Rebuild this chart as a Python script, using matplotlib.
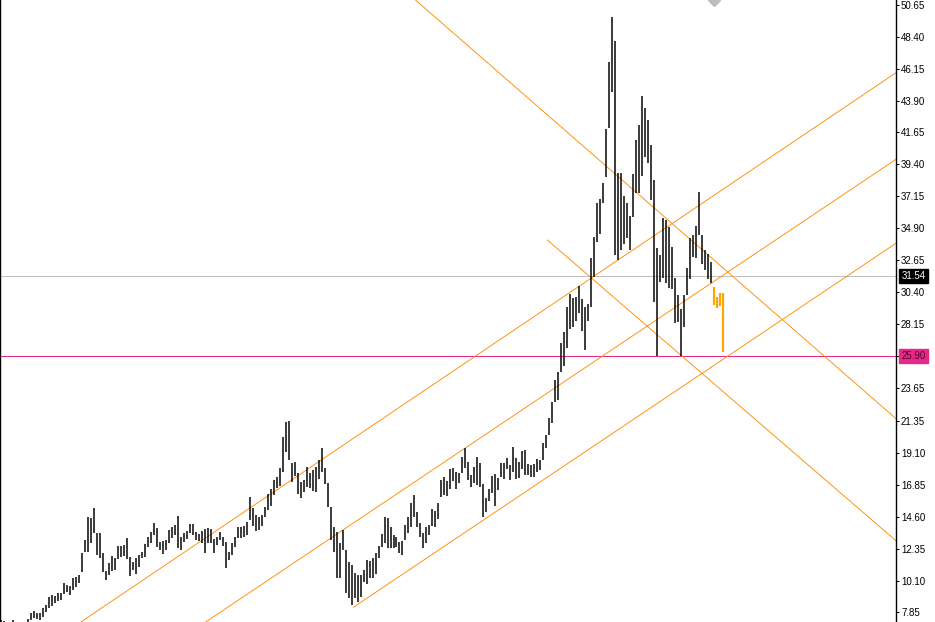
import numpy as np
import matplotlib
matplotlib.use("Agg")
import matplotlib.pyplot as plt

# ---------------- data (prices) ----------------
highs = [
    7.35, 7.25, 7.10, 6.90, 7.30, 7.10, 7.00, 7.05, 7.20, 7.40,
    7.79, 7.95, 7.84, 7.84, 8.14, 8.38, 8.96, 9.08, 9.01, 9.20,
    9.25, 9.90, 9.79, 9.72, 10.26, 10.33, 10.49, 12.02, 12.95, 14.60,
    14.48, 15.18, 13.42, 13.42, 12.01, 10.79, 11.31, 11.82, 11.66, 12.53,
    12.53, 12.60, 13.07, 11.78, 11.42, 11.71, 11.90, 12.13, 12.67, 13.14,
    13.54, 14.12, 13.77, 12.83, 12.90, 12.95, 13.66, 13.89, 14.01, 14.64,
    13.19, 13.42, 13.61, 14.08, 14.08, 13.54, 13.37, 13.61, 13.73, 13.77,
    13.73, 12.99, 13.19, 13.54, 13.19, 12.83, 12.13, 12.72, 13.19, 13.89,
    13.89, 13.94, 14.24, 16.00, 15.18, 14.71, 14.59, 14.71, 15.30, 16.19,
    16.52, 17.18, 17.36, 18.00, 20.23, 21.28, 21.35, 18.35, 18.47, 17.69,
    17.06, 17.18, 18.12, 17.65, 17.88, 18.12, 18.58, 19.41, 18.00, 16.99,
    15.30, 13.89, 13.54, 12.72, 13.66, 12.25, 11.42, 11.19, 10.65, 10.49,
    10.49, 10.84, 11.54, 11.49, 11.66, 12.01, 12.53, 13.37, 14.59, 14.48,
    13.84, 13.30, 13.19, 12.83, 12.91, 14.01, 14.60, 15.53, 16.12, 14.95,
    14.17, 13.42, 13.89, 14.01, 15.11, 15.02, 15.53, 17.18, 17.41, 17.13,
    17.93, 18.00, 17.76, 17.65, 18.82, 19.41, 18.47, 17.53, 18.07, 18.77,
    18.35, 16.90, 15.89, 16.52, 17.46, 17.60, 17.30, 18.35, 18.35, 18.70,
    18.23, 19.53, 18.70, 18.47, 19.24, 19.29, 18.30, 18.23, 18.30, 18.63,
    18.58, 19.76, 20.35, 21.52, 22.69, 24.22, 24.80, 26.80, 27.60, 29.38,
    30.30, 29.97, 30.10, 30.83, 29.90, 29.38, 29.60, 32.78, 34.30, 36.66,
    37.00, 38.07, 41.90, 46.60, 49.80, 48.10, 38.80, 38.80, 37.20, 36.70,
    35.80, 38.70, 41.10, 42.20, 44.20, 43.40, 42.50, 40.80, 38.30, 33.50,
    33.00, 35.60, 35.50, 35.00, 33.60, 31.40, 30.20, 29.20, 30.20, 32.10,
    34.20, 34.40, 35.10, 37.46, 34.40, 33.40, 33.10, 32.50,
]
lows = [
    6.80, 6.70, 6.60, 6.50, 6.80, 6.70, 6.60, 6.60, 6.80, 6.90,
    7.32, 7.48, 7.37, 7.32, 7.56, 7.91, 8.14, 8.31, 8.49, 8.68,
    8.73, 9.15, 9.32, 9.08, 9.43, 9.67, 9.90, 10.72, 12.13, 12.13,
    12.72, 13.42, 11.90, 11.66, 10.72, 10.13, 10.49, 10.79, 10.84, 11.59,
    11.78, 11.82, 11.59, 10.42, 10.84, 10.56, 11.07, 11.66, 11.73, 12.48,
    12.72, 13.30, 12.48, 12.25, 11.96, 12.25, 12.72, 13.07, 13.30, 12.36,
    12.25, 12.83, 13.00, 13.47, 13.30, 12.95, 12.90, 12.72, 12.06, 12.72,
    12.72, 12.01, 12.60, 12.95, 12.53, 10.96, 11.54, 11.90, 12.43, 13.07,
    13.12, 13.19, 13.30, 14.36, 13.94, 13.61, 13.66, 13.94, 14.59, 15.06,
    15.35, 16.12, 16.59, 16.75, 17.76, 19.17, 18.58, 17.06, 17.46, 16.19,
    15.88, 16.35, 16.71, 16.59, 16.42, 16.35, 17.22, 17.76, 16.89, 15.25,
    12.95, 12.13, 10.25, 10.25, 12.25, 9.20, 8.84, 8.37, 8.84, 8.61,
    8.96, 10.02, 9.85, 10.25, 10.25, 10.56, 11.66, 12.48, 12.76, 12.36,
    12.36, 12.36, 12.48, 12.01, 11.90, 12.95, 13.47, 13.89, 14.60, 13.89,
    13.19, 12.37, 12.72, 13.30, 13.94, 13.89, 14.41, 15.96, 16.12, 16.05,
    16.52, 17.13, 16.52, 16.94, 17.65, 18.00, 17.18, 16.71, 16.94, 16.83,
    16.71, 14.60, 14.95, 15.72, 16.29, 15.35, 16.47, 17.41, 17.22, 17.93,
    17.18, 17.76, 17.22, 17.29, 17.93, 17.53, 17.53, 17.37, 17.37, 17.76,
    17.88, 18.58, 19.41, 20.35, 21.17, 22.69, 22.80, 24.80, 25.20, 26.46,
    27.80, 27.97, 28.40, 28.91, 27.70, 26.33, 28.40, 29.38, 31.50, 33.96,
    34.50, 36.66, 38.50, 42.00, 44.50, 33.00, 32.70, 33.40, 33.80, 34.20,
    33.40, 35.70, 37.40, 37.40, 38.60, 39.90, 39.50, 36.90, 29.70, 25.90,
    31.10, 31.40, 31.05, 30.70, 30.60, 28.20, 28.30, 25.90, 27.95, 30.20,
    31.30, 32.90, 32.80, 34.43, 32.40, 31.97, 31.30, 31.05,
]
recent_highs = [30.77, 30.06, 30.34, 30.34]
recent_lows = [29.50, 29.29, 29.43, 26.18]

# trend lines: (bar index start, bar index end), (price start, price end)
trend_x = [(26.67, 298.67), (68.33, 298.67), (117.57, 298.67),
           (138.33, 298.67), (182.33, 298.67)]
trend_y = [(7.18, 45.86), (7.18, 39.76), (8.21, 33.85),
           (50.98, 21.50), (34.08, 12.90)]

tick_values = [50.65, 48.40, 46.15, 43.90, 41.65, 39.40, 37.15, 34.90, 32.65,
               30.40, 28.15, 25.90, 23.65, 21.35, 19.10, 16.85, 14.60, 12.35,
               10.10, 7.85]
tick_labels = ["50.65", "48.40", "46.15", "43.90", "41.65", "39.40", "37.15",
               "34.90", "32.65", "30.40", "28.15", "25.90", "23.65", "21.35",
               "19.10", "16.85", "14.60", "12.35", "10.10", "7.85"]

bid_price = 31.54
level_price = 25.90
marker_bar = 238

y_min, y_max = 7.18, 50.98
x_max = 298.67

# ---------------- drawing ----------------
W, H = 935, 622
fig = plt.figure(figsize=(W / 100, H / 100), dpi=100)
fig.patch.set_facecolor("white")
ax = fig.add_axes([0, 0, 896 / W, 1])
ax.set_facecolor("white")

px = 0.72  # one pixel in points

x_black = np.arange(len(highs))
x_recent = np.arange(len(highs), len(highs) + len(recent_highs))

ax.axhline(bid_price, color="#C0C0C0", lw=px, zorder=1)
ax.axhline(level_price, color="#E5288A", lw=px, zorder=1)

for (x0, x1), (y0, y1) in zip(trend_x, trend_y):
    ax.plot([x0, x1], [y0, y1], color="#FF8C00", lw=0.9 * px,
            antialiased=True, zorder=2)

vb = ax.vlines(x_black, lows, highs, colors="black", lw=1.5 * px,
               antialiased=True, zorder=3)
vb.set_snap(True)
vr = ax.vlines(x_recent, recent_lows, recent_highs, colors="#FFA500",
               lw=2.2 * px, antialiased=True, zorder=3)
vr.set_snap(True)

ax.plot([marker_bar], [y_max], marker="D", ms=6.5, color="#BDBDBD",
        mec="#BDBDBD", ls="none", clip_on=True, zorder=4)

ax.set_xlim(-0.3, x_max)
ax.set_ylim(y_min, y_max)
ax.set_xticks([])

ax.yaxis.tick_right()
ax.set_yticks(tick_values)
ax.set_yticklabels(tick_labels)
ax.tick_params(axis="y", direction="out", length=3 * px, width=px,
               pad=2 * px, labelsize=7, colors="black")
for lbl in ax.get_yticklabels():
    lbl.set_family(["Liberation Sans", "DejaVu Sans"])

for side in ("top", "bottom"):
    ax.spines[side].set_visible(False)
ax.spines["right"].set_linewidth(1.4 * px)
ax.spines["left"].set_linewidth(1.4 * px)
ax.spines["right"].set_color("black")
ax.spines["left"].set_color("black")

# price labels on the axis
ax.annotate(f"{bid_price:.2f}", xy=(1.0, bid_price),
            xycoords=("axes fraction", "data"), xytext=(2.5 * px + 2.2, 0),
            textcoords="offset points", ha="left", va="center", fontsize=7,
            family=["Liberation Sans", "DejaVu Sans"], color="white",
            bbox=dict(boxstyle="square,pad=0.22", fc="black", ec="black"),
            zorder=10, annotation_clip=False)
ax.annotate(f"{level_price:.2f}", xy=(1.0, level_price),
            xycoords=("axes fraction", "data"), xytext=(2.5 * px + 2.2, 0),
            textcoords="offset points", ha="left", va="center", fontsize=7,
            family=["Liberation Sans", "DejaVu Sans"], color="#4a0a28",
            bbox=dict(boxstyle="square,pad=0.22", fc="#E5288A", ec="#E5288A"),
            zorder=10, annotation_clip=False)

fig.savefig("out.png", dpi=100, facecolor="white")
